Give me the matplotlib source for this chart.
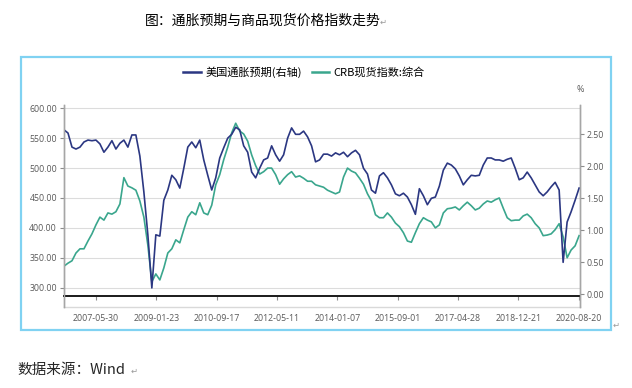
import matplotlib.pyplot as plt
import pandas as pd
from matplotlib.patches import Rectangle

plt.rcParams['font.family'] = ['Noto Sans CJK SC', 'DejaVu Sans']

# Data (evenly spaced samples from start to end)
start_date = '2006-07-14'
end_date = '2020-08-20'
tick_dates = ['2007-05-30', '2009-01-23', '2010-09-17', '2012-05-11', '2014-01-07',
              '2015-09-01', '2017-04-28', '2018-12-21', '2020-08-20']

# 美国通胀预期 (%), right axis
inflation_exp = [
    2.57, 2.52, 2.30, 2.27, 2.30, 2.38, 2.41, 2.40, 2.41, 2.35,
    2.22, 2.30, 2.40, 2.27, 2.36, 2.41, 2.30, 2.49, 2.49, 2.16,
    1.60, 0.93, 0.10, 0.93, 0.91, 1.47, 1.63, 1.86, 1.79, 1.66,
    1.97, 2.30, 2.38, 2.29, 2.41, 2.10, 1.86, 1.63, 1.82, 2.13,
    2.29, 2.44, 2.50, 2.61, 2.57, 2.32, 2.22, 1.91, 1.82, 1.97,
    2.10, 2.13, 2.32, 2.18, 2.08, 2.18, 2.44, 2.60, 2.50, 2.50,
    2.55, 2.46, 2.32, 2.07, 2.10, 2.19, 2.19, 2.16, 2.21, 2.18,
    2.22, 2.15, 2.21, 2.25, 2.18, 1.97, 1.88, 1.63, 1.58, 1.85,
    1.90, 1.82, 1.71, 1.57, 1.54, 1.58, 1.52, 1.40, 1.25, 1.65,
    1.54, 1.40, 1.50, 1.52, 1.69, 1.94, 2.05, 2.02, 1.96, 1.85,
    1.71, 1.79, 1.86, 1.85, 1.86, 2.02, 2.13, 2.13, 2.10, 2.10,
    2.08, 2.11, 2.13, 1.97, 1.79, 1.82, 1.91, 1.82, 1.71, 1.60,
    1.54, 1.60, 1.68, 1.75, 1.63, 0.50, 1.13, 1.29, 1.47, 1.66,
]

# CRB现货指数:综合, left axis
crb_index = [
    336, 341, 345, 358, 365, 365, 378, 390, 405, 418,
    413, 425, 423, 427, 440, 484, 470, 467, 463, 445,
    418, 371, 310, 323, 313, 333, 358, 365, 380, 375,
    397, 418, 427, 422, 442, 425, 422, 438, 472, 489,
    514, 535, 559, 575, 562, 557, 545, 522, 504, 490,
    494, 500, 500, 489, 473, 482, 489, 494, 485, 487,
    483, 478, 478, 472, 470, 468, 463, 460, 457, 460,
    485, 500, 495, 492, 483, 473, 457, 445, 422, 417,
    417, 425, 418, 408, 402, 392, 378, 376, 392, 407,
    417, 413, 410, 400, 405, 425, 432, 433, 435, 430,
    437, 443, 437, 430, 433, 440, 445, 443, 447, 450,
    433, 417, 412, 413, 413, 420, 423, 417, 407, 400,
    387, 388, 390, 397, 407, 385, 350, 363, 370, 387,
]

navy = '#2b3782'
teal = '#3aa68d'
grey = '#8c8c8c'
label_grey = '#595959'

fig = plt.figure(figsize=(6.32, 3.88), dpi=100)
ax = fig.add_axes([64 / 632, 81 / 388, 516 / 632, 202 / 388])
ax2 = ax.twinx()

dates_inf = pd.date_range(start_date, end_date, periods=len(inflation_exp))
dates_crb = pd.date_range(start_date, end_date, periods=len(crb_index))

ax.plot(dates_crb, crb_index, color=teal, lw=1.2, label='CRB现货指数:综合')
ax2.plot(dates_inf, inflation_exp, color=navy, lw=1.2, label='美国通胀预期(右轴)')

ax.set_xlim(pd.Timestamp('2006-07-14'), pd.Timestamp('2020-08-29'))
ax.set_ylim(267.7, 605.5)
ax2.set_ylim(-0.198, 2.958)

ax.set_yticks(range(300, 601, 50))
ax.set_yticklabels([f'{v:.2f}' for v in range(300, 601, 50)])
r_ticks = [0, 0.5, 1.0, 1.5, 2.0, 2.5]
ax2.set_yticks(r_ticks)
ax2.set_yticklabels([f'{v:.2f}' for v in r_ticks])

ax.set_xticks(pd.to_datetime(tick_dates))
ax.set_xticklabels(tick_dates)

ax.grid(axis='y', color='#dcdcdc', lw=0.8)
ax.set_axisbelow(True)

for a in (ax, ax2):
    a.spines['top'].set_visible(False)
    a.spines['left'].set_color('#a6a6a6')
    a.spines['right'].set_color('#a6a6a6')
    a.spines['left'].set_linewidth(1.0)
    a.spines['right'].set_linewidth(1.0)
ax2.spines['bottom'].set_visible(False)
ax.spines['bottom'].set_position(('axes', 11 / 202))
ax.spines['bottom'].set_color('#1a1a1a')
ax.spines['bottom'].set_linewidth(1.4)

# light grey base line at the bottom of the plot area
ax.plot([0, 1], [0, 0], transform=ax.transAxes, color='#d9d9d9', lw=1.0, clip_on=False)

ax.tick_params(axis='y', direction='out', length=3, width=0.8, color=grey,
               labelsize=6.3, labelcolor=label_grey, pad=2, labelfontfamily='Open Sans')
ax2.tick_params(axis='y', direction='out', length=3, width=0.8, color=grey,
                labelsize=6.3, labelcolor=label_grey, pad=1.5, labelfontfamily='Open Sans')
ax.tick_params(axis='x', direction='out', length=3, width=0.8, color=grey,
               labelsize=6.3, labelcolor=label_grey, pad=10, labelfontfamily='Open Sans')

fig.text(580 / 632, 1 - 89 / 388, '%', ha='center', va='center', fontsize=6.5,
         color=label_grey, family='Open Sans')

h1, l1 = ax2.get_legend_handles_labels()
h2, l2 = ax.get_legend_handles_labels()
leg = fig.legend(h1 + h2, l1 + l2, loc='center', bbox_to_anchor=(304 / 632, 1 - 72.5 / 388),
                 ncol=2, frameon=False, fontsize=8, handlelength=1.6, handletextpad=0.4,
                 columnspacing=0.9)
for line in leg.get_lines():
    line.set_linewidth(1.8)

fig.text(263 / 632, 1 - 20.5 / 388, '图：通胀预期与商品现货价格指数走势', ha='center',
         va='center', fontsize=10, color='black')
fig.text(380 / 632, 1 - 22 / 388, '↵', ha='left', va='center', fontsize=6, color='#999999')
fig.text(613 / 632, 1 - 325 / 388, '↵', ha='left', va='center', fontsize=6, color='#999999')
fig.text(17 / 632, 1 - 370 / 388, '数据来源：Wind', ha='left', va='center', fontsize=10.5,
         color='#262626')
fig.text(131 / 632, 1 - 371 / 388, '↵', ha='left', va='center', fontsize=6, color='#999999')

fig.patches.append(Rectangle((21 / 632, 1 - 330 / 388), 590 / 632, 273 / 388,
                             transform=fig.transFigure, fill=False, ec='#80d2f2', lw=1.6))

fig.savefig('out.png', dpi=100)
